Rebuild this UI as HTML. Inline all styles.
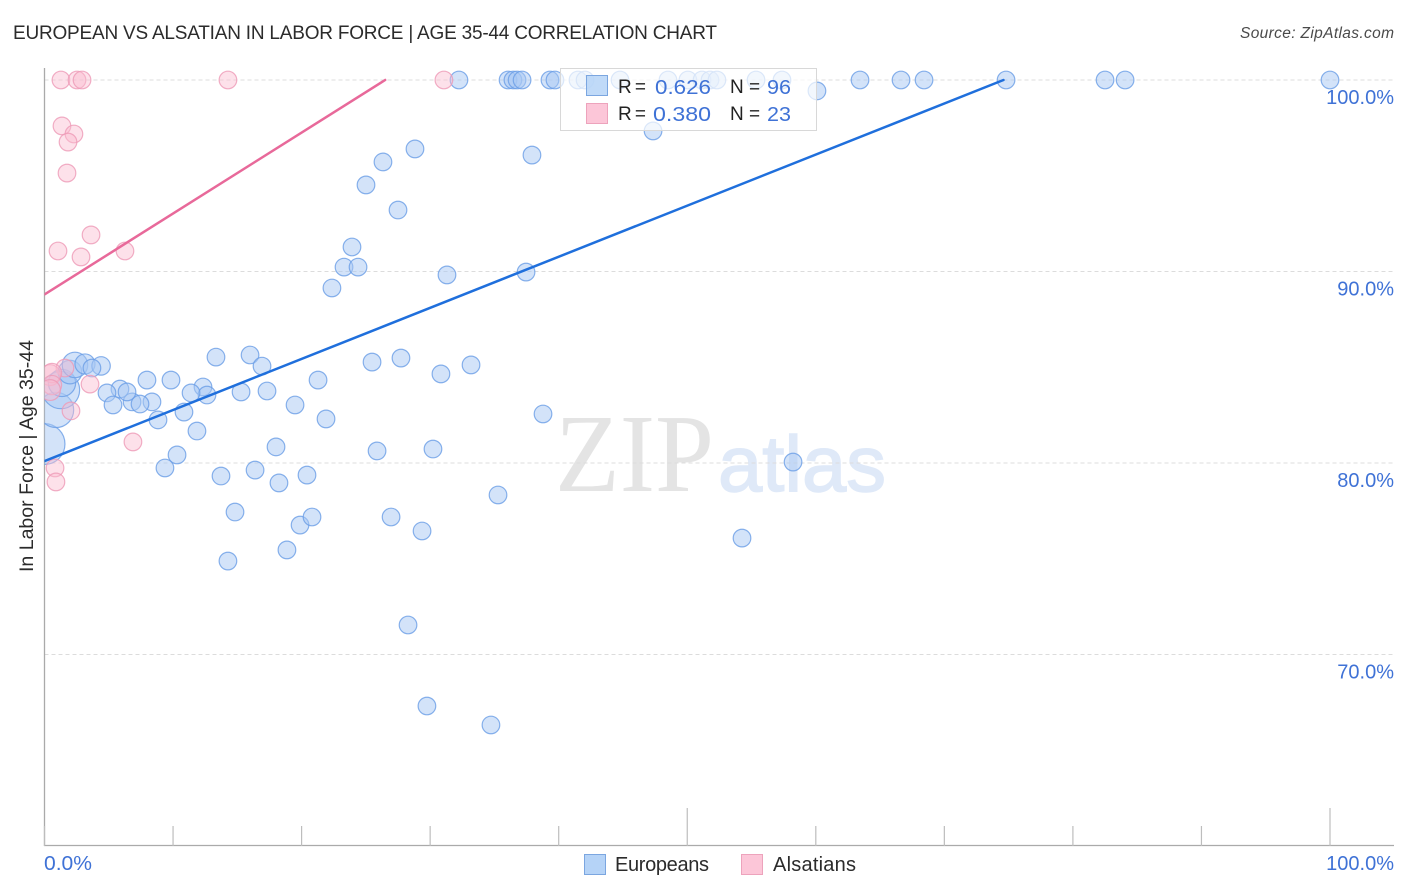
<!DOCTYPE html>
<html lang="en">
<head>
<meta charset="utf-8">
<title>European vs Alsatian in Labor Force | Age 35-44 Correlation Chart</title>
<style>
html,body{margin:0;padding:0;background:#fff;width:1406px;height:892px;overflow:hidden}
svg{display:block;font-family:"Liberation Sans",sans-serif}
</style>
</head>
<body>
<svg id="chart" xmlns="http://www.w3.org/2000/svg" width="1406" height="892" viewBox="0 0 1406 892">
  <defs>
    <clipPath id="plot-clip"><rect x="44.5" y="60" width="1350" height="786"/></clipPath>
  </defs>
  <rect x="0" y="0" width="1406" height="892" fill="#fff"/>
  <text x="13" y="39" font-size="19" fill="#2b2b2b" textLength="704" lengthAdjust="spacing">EUROPEAN VS ALSATIAN IN LABOR FORCE | AGE 35-44 CORRELATION CHART</text>
  <text x="1394" y="38" font-size="15.5" font-style="italic" fill="#4a4a4a" text-anchor="end" textLength="154" lengthAdjust="spacing">Source: ZipAtlas.com</text>

  <g>
    <text x="555" y="491" font-family="'Liberation Serif',serif" font-size="111" fill="#e4e4e4" textLength="159" lengthAdjust="spacingAndGlyphs">ZIP</text>
    <text x="718" y="491" font-size="79" fill="#dfe9f8" stroke="#dfe9f8" stroke-width="1.5" textLength="168" lengthAdjust="spacingAndGlyphs">atlas</text>
  </g>

  <g id="grid"></g>
  <line x1="44.5" y1="68" x2="44.5" y2="846" stroke="#aaa" stroke-width="1.3"/>
  <line x1="44" y1="845.5" x2="1394" y2="845.5" stroke="#aaa" stroke-width="1.3"/>
  <g id="xticks"></g>
  <g id="ylabels"></g>
  <text x="44" y="870" font-size="20" fill="#3f72d6" textLength="48" lengthAdjust="spacingAndGlyphs">0.0%</text>
  <text x="1394" y="870" font-size="20" fill="#3f72d6" text-anchor="end">100.0%</text>
  <text transform="translate(33 572) rotate(-90)" font-size="19.5" fill="#2b2b2b" textLength="232" lengthAdjust="spacing">In Labor Force | Age 35-44</text>

  <g clip-path="url(#plot-clip)">
    <g id="euro-points"></g>
    <g id="als-points"></g>
    <g id="trends"></g>
  </g>

  <g>
    <rect x="560.5" y="68.5" width="256" height="62" fill="#fff" fill-opacity="0.7" stroke="#d8d8d8" stroke-width="1"/>
    <rect x="586.5" y="75.5" width="21" height="20" fill="#b5d3f7" fill-opacity="0.85" stroke="#7ba6e0"/>
    <rect x="586.5" y="103.5" width="21" height="20" fill="#fcc6d8" stroke="#eda3bc"/>
    <text x="618" y="93" font-size="19" fill="#222" textLength="28" lengthAdjust="spacing">R =</text>
    <text x="655" y="94" font-size="20" fill="#3f72d6" textLength="56" lengthAdjust="spacingAndGlyphs">0.626</text>
    <text x="730" y="93" font-size="19" fill="#222">N =</text>
    <text x="767" y="94" font-size="20" fill="#3f72d6" textLength="24" lengthAdjust="spacingAndGlyphs">96</text>
    <text x="618" y="120" font-size="19" fill="#222" textLength="28" lengthAdjust="spacing">R =</text>
    <text x="653" y="121" font-size="20" fill="#3f72d6" textLength="58" lengthAdjust="spacingAndGlyphs">0.380</text>
    <text x="730" y="120" font-size="19" fill="#222">N =</text>
    <text x="767" y="121" font-size="20" fill="#3f72d6" textLength="24" lengthAdjust="spacingAndGlyphs">23</text>
  </g>

  <g>
    <rect x="584.5" y="854.5" width="21" height="20" fill="#b5d3f7" stroke="#7ba6e0"/>
    <text x="615" y="871" font-size="20" fill="#2b2b2b" textLength="94" lengthAdjust="spacing">Europeans</text>
    <rect x="741.5" y="854.5" width="21" height="20" fill="#fcc6d8" stroke="#eda3bc"/>
    <text x="773" y="871" font-size="20" fill="#2b2b2b" textLength="83" lengthAdjust="spacing">Alsatians</text>
  </g>
</svg>
<script>
const xTickValues = [0,10,20,30,40,50,60,70,80,90,100];
const xMajorTicks = [50,100];
const yTickValues = [100,90,80,70];
const yTickLabels = ['100.0%','90.0%','80.0%','70.0%'];

const euroX = [32.24,36.06,36.44,36.76,37.15,39.32,39.71,41.50,42.05,44.77,48.50,50.05,51.15,51.77,52.31,55.35,57.37,63.44,66.63,68.42,74.80,82.50,84.06,100,
60.09,47.34,37.92,28.82,26.33,25.01,27.50,23.92,23.30,24.39,31.31,37.46,22.36,13.34,15.99,16.92,25.48,27.73,33.18,30.84,21.28,7.97,9.84,12.33,12.64,11.40,15.29,17.31,19.49,21.90,10.85,8.83,11.86,8.36,6.81,7.43,5.87,6.42,4.86,5.33,18.01,25.87,30.22,38.78,10.31,9.37,13.73,16.38,18.24,20.42,35.28,58.23,14.82,19.88,20.81,26.96,29.37,54.26,18.86,14.27,28.28,29.75,34.73,
0,0.90,1.28,1.36,1.98,2.37,3.15,4.40,3.69];
const euroY = [100,100,100,100,100,100,100,100,100,100,100,100,100,100,100,100,100,100,100,100,100,100,100,100,
99.43,97.34,96.08,96.40,95.72,94.52,93.21,91.28,90.23,90.23,89.82,89.97,89.14,85.53,85.64,85.06,85.27,85.48,85.12,84.65,84.33,84.33,84.33,83.97,83.55,83.66,83.71,83.76,83.03,82.30,82.66,82.25,81.67,83.19,83.19,83.08,83.86,83.71,83.66,83.03,80.84,80.63,80.73,82.56,80.42,79.74,79.32,79.63,78.96,79.37,78.33,80.05,77.44,76.76,77.18,77.18,76.45,76.08,75.46,74.88,71.54,67.31,66.32,
80.99,82.77,83.81,84.18,84.75,85.12,85.17,85.07,84.96];
const euroWeight = [1,1,1,1,1,1,1,1,1,1,1,1,1,1,1,1,1,1,1,1,1,1,1,1,
1,1,1,1,1,1,1,1,1,1,1,1,1,1,1,1,1,1,1,1,1,1,1,1,1,1,1,1,1,1,1,1,1,1,1,1,1,1,1,1,1,1,1,1,1,1,1,1,1,1,1,1,1,1,1,1,1,1,1,1,1,1,1,
5.4,4,4.5,2.4,1.8,2.1,1.3,1.1,1];

const alsX = [1.28,2.53,2.92,14.27,31.07,1.36,2.29,1.83,1.75,3.62,1.05,2.84,6.26,6.88,0.82,0.89,2.06,3.54,1.59,0.43,0.58,0.58,0.43];
const alsY = [100,100,100,100,100,97.60,97.18,96.76,95.14,91.91,91.07,90.76,91.07,81.10,79.74,79.01,82.72,84.12,84.96,84.59,84.70,84.07,83.81];
const alsWeight = [1,1,1,1,1,1,1,1,1,1,1,1,1,1,1,1,1,1,1,1.4,1.2,1.2,1.4];

const euroTrendX = [0,74.6];
const euroTrendY = [80.1,100];
const alsTrendX = [0,26.5];
const alsTrendY = [88.8,100];

const SVGNS = 'http://www.w3.org/2000/svg';
function sx(v){ return 44.5 + v * 12.855; }
function sy(v){ return 80 + (100 - v) * 19.15; }
function radius(w){ return 8.8 * Math.sqrt(w); }
function make(tag, attrs){
  const el = document.createElementNS(SVGNS, tag);
  for (const k in attrs) el.setAttribute(k, attrs[k]);
  return el;
}

const grid = document.getElementById('grid');
yTickValues.forEach(function(v){
  const ln = make('line', {x1:44.5, x2:1394, y1:sy(v), y2:sy(v), stroke:'#dcdcdc', 'stroke-width':1, 'stroke-dasharray':'4 3'});
  
  
  grid.appendChild(ln);
});

const xticks = document.getElementById('xticks');
xTickValues.forEach(function(v){
  const top = xMajorTicks.indexOf(v) >= 0 ? 808 : 826;
  const ln = make('line', {x1:sx(v), x2:sx(v), y1:top, y2:846, stroke:'#bdbdbd', 'stroke-width':1.2});
  
  
  xticks.appendChild(ln);
});

const ylabels = document.getElementById('ylabels');
yTickValues.forEach(function(v, i){
  const t = make('text', {x:1394, y:sy(v) + 24, 'font-size':20, fill:'#3f72d6', 'text-anchor':'end'});
  t.textContent = yTickLabels[i];
  
  
  ylabels.appendChild(t);
});

const euroGroup = document.getElementById('euro-points');
euroX.forEach(function(v, i){
  const c = make('circle', {cx:sx(v), cy:sy(euroY[i]), r:radius(euroWeight[i]), fill:'#a8c8f3', 'fill-opacity':0.5, stroke:'#6a9de6', 'stroke-opacity':0.8, 'stroke-width':1.2});
  
  
  euroGroup.appendChild(c);
});

const alsGroup = document.getElementById('als-points');
alsX.forEach(function(v, i){
  const c = make('circle', {cx:sx(v), cy:sy(alsY[i]), r:radius(alsWeight[i]), fill:'#fbbdd0', 'fill-opacity':0.45, stroke:'#ee9ab6', 'stroke-opacity':0.8, 'stroke-width':1.2});
  
  
  alsGroup.appendChild(c);
});

const trends = document.getElementById('trends');
const euroLine = make('line', {x1:sx(euroTrendX[0]), y1:sy(euroTrendY[0]), x2:sx(euroTrendX[1]), y2:sy(euroTrendY[1]), stroke:'#1f6fdc', 'stroke-width':2.5, 'stroke-linecap':'round'});


trends.appendChild(euroLine);
const alsLine = make('line', {x1:sx(alsTrendX[0]), y1:sy(alsTrendY[0]), x2:sx(alsTrendX[1]), y2:sy(alsTrendY[1]), stroke:'#e8699a', 'stroke-width':2.5, 'stroke-linecap':'round'});


trends.appendChild(alsLine);
</script>
</body>
</html>
